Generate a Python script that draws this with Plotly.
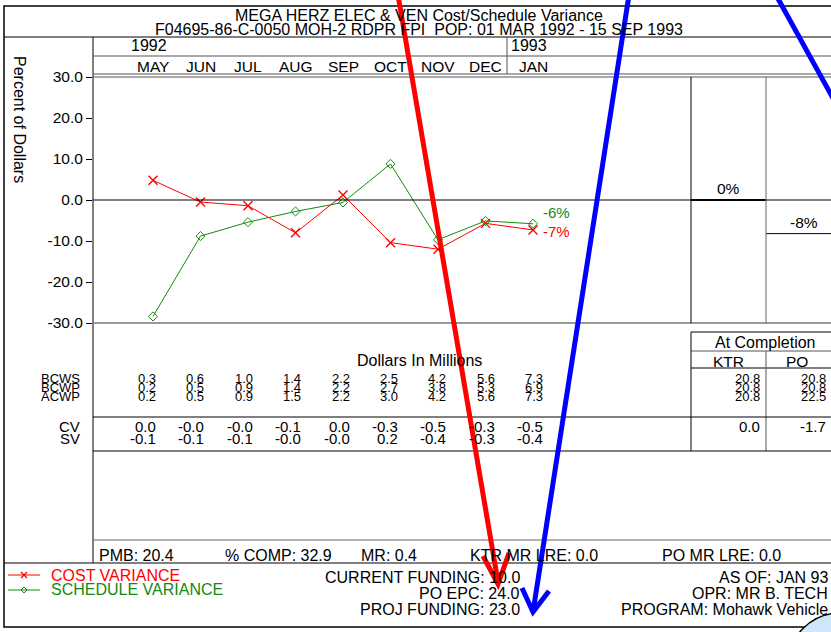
import plotly.graph_objects as go

# ---------------- data ----------------
months = ["MAY", "JUN", "JUL", "AUG", "SEP", "OCT", "NOV", "DEC", "JAN"]
year_labels = ["1992", "1993"]
year_start_index = [0, 8]
cost_var_pct = [4.8, -0.5, -1.4, -8.0, 1.2, -10.4, -12.0, -5.7, -7.3]
sched_var_pct = [-28.4, -8.8, -5.4, -2.8, -0.6, 8.8, -9.7, -5.1, -5.8]
y_ticks = [30, 20, 10, 0, -10, -20, -30]

bcws = [0.3, 0.6, 1.0, 1.4, 2.2, 2.5, 4.2, 5.6, 7.3]
bcwp = [0.2, 0.5, 0.9, 1.4, 2.2, 2.7, 3.8, 5.3, 6.9]
acwp = [0.2, 0.5, 0.9, 1.5, 2.2, 3.0, 4.2, 5.6, 7.3]
cv = [0.0, -0.0, -0.0, -0.1, 0.0, -0.3, -0.5, -0.3, -0.5]
sv = [-0.1, -0.1, -0.1, -0.0, -0.0, 0.2, -0.4, -0.3, -0.4]

completion_cols = ["KTR", "PO"]
completion_bcws = [20.8, 20.8]
completion_bcwp = [20.8, 20.8]
completion_acwp = [20.8, 22.5]
completion_cv = [0.0, -1.7]
completion_pct = [0.0, -8.2]

title_lines = ["MEGA HERZ ELEC & VEN Cost/Schedule Variance",
               "F04695-86-C-0050 MOH-2 RDPR FPI  POP: 01 MAR 1992 - 15 SEP 1993"]
status_items = ["PMB: 20.4", "% COMP: 32.9", "MR: 0.4", "KTR MR LRE: 0.0", "PO MR LRE: 0.0"]
funding_items = ["CURRENT FUNDING: 10.0", "PO EPC: 24.0", "PROJ FUNDING: 23.0"]
program_items = ["AS OF: JAN 93", "OPR: MR B. TECH", "PROGRAM: Mohawk Vehicle"]

# ---------------- layout helpers ----------------
W, H = 831, 632
FONT = "Liberation Sans, Arial, sans-serif"
RED = "#ff0000"
GREEN = "#118a11"
FS = 16        # general text size
FS_ROW = 13    # tightly packed BCWS/BCWP/ACWP rows
FS_VAR = 15    # CV/SV rows


def px(x):
    return x / W


def py(y):
    return 1 - y / H


shapes = []
annotations = []


def hline(y, x0, x1, color="black", width=1):
    shapes.append(dict(type="line", xref="paper", yref="paper", x0=px(x0), x1=px(x1),
                       y0=py(y), y1=py(y), line=dict(color=color, width=width)))


def vline(x, y0, y1, color="black", width=1):
    shapes.append(dict(type="line", xref="paper", yref="paper", x0=px(x), x1=px(x),
                       y0=py(y0), y1=py(y1), line=dict(color=color, width=width)))


def text(t, x, y, anchor="center", size=FS, color="black", family=FONT, **kw):
    annotations.append(dict(text=t, x=px(x), y=py(y), xref="paper", yref="paper",
                            xanchor=anchor, yanchor="middle", showarrow=False,
                            font=dict(size=size, color=color, family=family), **kw))


# plot geometry (pixels)
PL, PR, PT, PB = 93, 691, 77, 323
MONTH0, STEP = 153, 47.5
x_range = [-(MONTH0 - PL) / STEP, (PR - MONTH0) / STEP]
TAB0, TSTEP = 158, 48.4
x3_range = [-(TAB0 - PL) / TSTEP, (PR - TAB0) / TSTEP]
COLW = 75

fig = go.Figure()
idx = list(range(len(months)))
fig.add_trace(go.Scatter(x=idx, y=cost_var_pct, mode="lines+markers", name="COST VARIANCE",
                         line=dict(color=RED, width=1),
                         marker=dict(symbol="x-thin", size=9, line=dict(color=RED, width=1.4))))
fig.add_trace(go.Scatter(x=idx, y=sched_var_pct, mode="lines+markers", name="SCHEDULE VARIANCE",
                         line=dict(color=GREEN, width=1),
                         marker=dict(symbol="diamond-open", size=7, color=GREEN, line=dict(width=1))))

# at-completion percentage bars (drawn as level lines)
for i, v in enumerate(completion_pct):
    fig.add_trace(go.Scatter(x=[i, i + 1], y=[v, v], mode="lines", xaxis="x2", yaxis="y",
                             line=dict(color="black", width=2 if i == 0 else 1), showlegend=False))
    annotations.append(dict(text=f"{round(v)}%", x=i + 0.5, y=v, xref="x2", yref="y",
                            yanchor="bottom", showarrow=False, yshift=1,
                            font=dict(size=15.5, family=FONT, color="black")))

# end labels
annotations.append(dict(text=f"{round(sched_var_pct[-1])}%", x=len(months) - 1, y=sched_var_pct[-1],
                        xref="x", yref="y", xanchor="left", showarrow=False, xshift=8, yshift=11,
                        font=dict(size=15, family=FONT, color=GREEN)))
annotations.append(dict(text=f"{round(cost_var_pct[-1])}%", x=len(months) - 1, y=cost_var_pct[-1],
                        xref="x", yref="y", xanchor="left", showarrow=False, xshift=8, yshift=-2,
                        font=dict(size=15, family=FONT, color=RED)))

# month labels
for i, m in enumerate(months):
    annotations.append(dict(text=m, x=i, y=py(66), xref="x", yref="paper", yanchor="middle",
                            showarrow=False, font=dict(size=15.5, family=FONT, color="black")))
for lab, i in zip(year_labels, year_start_index):
    annotations.append(dict(text=lab, x=i, y=py(46), xref="x", yref="paper", yanchor="middle",
                            showarrow=False, xshift=-4, font=dict(size=FS, family=FONT, color="black")))

# table rows
row_defs = [("BCWS", bcws, 378, FS_ROW), ("BCWP", bcwp, 387, FS_ROW), ("ACWP", acwp, 396, FS_ROW),
            ("CV", cv, 426, FS_VAR), ("SV", sv, 438, FS_VAR)]
for name, vals, y, fs in row_defs:
    text(name, 82, y, anchor="right", size=fs)
    for i, v in enumerate(vals):
        annotations.append(dict(text=f"{v:.1f}", x=i, y=py(y), xref="x3", yref="paper",
                                xanchor="right", yanchor="middle", showarrow=False,
                                font=dict(size=fs, family=FONT, color="black")))
text("Dollars In Millions", 419, 360)

# at completion box
text("At Completion", 765, 342)
col_right = [762, 828]
col_center = [728, 797]
for j, c in enumerate(completion_cols):
    text(c, col_center[j], 361, size=15.5)
    for vals, y, fs in ((completion_bcws, 378, FS_ROW), (completion_bcwp, 387, FS_ROW),
                        (completion_acwp, 396, FS_ROW), (completion_cv, 426, FS_VAR)):
        text(f"{vals[j]:.1f}", col_right[j], y, anchor="right", size=fs)

# titles
text(title_lines[0], 419, 15)
text(title_lines[1], 419, 29)
text("Percent of Dollars", 20, 119, textangle=90)

# status row
for t, x in zip(status_items, [97, 223, 359, 468, 660]):
    text(t, x, 555, anchor="left")
for t, y in zip(funding_items, [577, 593, 609]):
    text(t, 522, y, anchor="right")
for t, y in zip(program_items, [577, 593, 609]):
    text(t, 830, y, anchor="right")

# legend (manual)
text("COST VARIANCE", 49, 575, anchor="left", color=RED)
text("SCHEDULE VARIANCE", 49, 589, anchor="left", color=GREEN)
hline(575, 8, 40, color=RED, width=1)
hline(590, 8, 40, color=GREEN, width=1)
shapes.append(dict(type="path", xref="paper", yref="paper",
                   path=f"M {px(21)} {py(572)} L {px(27)} {py(578)} M {px(21)} {py(578)} L {px(27)} {py(572)}",
                   line=dict(color=RED, width=1.3)))
shapes.append(dict(type="path", xref="paper", yref="paper",
                   path=f"M {px(21)} {py(590)} L {px(24)} {py(587)} L {px(27)} {py(590)} L {px(24)} {py(593)} Z",
                   line=dict(color=GREEN, width=1)))

# frame and rules
shapes.append(dict(type="rect", xref="paper", yref="paper", x0=px(4), x1=px(845), y0=py(627), y1=py(6),
                   line=dict(color="black", width=1.5)))
hline(37, 4, 831)
vline(PL, 37, 563)
hline(56, PL, 831, color="#555")
hline(74, PL, 831, color="#555")
hline(77, PL, 831, color="#555")
vline(507, 37, 74, color="#555")
hline(200, PL, 831)
hline(323, PL, 831, color="#777", width=1.5)
vline(PR, 77, 323)
vline(PR + COLW, 77, 323, color="#666")
hline(332, PR, 831)
hline(351, PR, 831, color="#555")
hline(368, PR, 831)
vline(PR, 332, 451)
vline(PR + COLW, 351, 451, color="#555")
hline(417, PL, 831)
hline(451, PL, 831)
hline(540, PL, 831, color="#666")
hline(563, 4, 831)

# overlay markup (hand-drawn arrows and circle)
shapes.append(dict(type="circle", xref="paper", yref="paper", x0=px(788), x1=px(892), y0=py(717), y1=py(613),
                   fillcolor="#cfe6fa", line=dict(color="black", width=1.5)))
shapes.append(dict(type="line", xref="paper", yref="paper", x0=px(398), y0=py(-5), x1=px(498), y1=py(582),
                   line=dict(color=RED, width=5)))
shapes.append(dict(type="path", xref="paper", yref="paper",
                   path=f"M {px(483)} {py(556)} L {px(498)} {py(584)} L {px(509)} {py(553)}",
                   line=dict(color=RED, width=5)))
shapes.append(dict(type="line", xref="paper", yref="paper", x0=px(629), y0=py(-5), x1=px(533), y1=py(612),
                   line=dict(color="blue", width=5)))
shapes.append(dict(type="path", xref="paper", yref="paper",
                   path=f"M {px(522)} {py(588)} L {px(533)} {py(612)} L {px(549)} {py(591)}",
                   line=dict(color="blue", width=5)))
shapes.append(dict(type="line", xref="paper", yref="paper", x0=px(776), y0=py(-5), x1=px(845), y1=py(120),
                   line=dict(color="blue", width=5)))

fig.update_layout(
    width=W, height=H, margin=dict(l=0, r=0, t=0, b=0, autoexpand=False),
    paper_bgcolor="white", plot_bgcolor="rgba(0,0,0,0)",
    showlegend=False,
    font=dict(family=FONT, size=FS, color="black"),
    xaxis=dict(domain=[px(PL), px(PR)], range=x_range, visible=False, automargin=False),
    xaxis2=dict(domain=[px(PR), 1], range=[0, (W - PR) / COLW], visible=False, anchor="y",
                automargin=False),
    xaxis3=dict(domain=[px(PL), px(PR)], range=x3_range, visible=False, anchor="y", overlaying="x",
                automargin=False),
    yaxis=dict(domain=[py(PB), py(PT)], range=[-30, 30], tickvals=y_ticks, automargin=False,
               ticktext=[f"{v:.1f}" for v in y_ticks], ticks="outside", ticklen=6,
               tickcolor="black", showgrid=False, zeroline=False, showline=False,
               tickfont=dict(size=15.5, family=FONT, color="black")),
    shapes=shapes, annotations=annotations,
)

pin_to_corner = (
    "document.documentElement.style.margin='0';"
    "document.body.style.margin='0';"
    "document.body.style.overflow='hidden';"
    "var d=document.getElementById('{plot_id}');"
    "d.style.position='fixed';d.style.left='0px';d.style.top='0px';"
)
fig.write_html("out.html", post_script=pin_to_corner, config={"displayModeBar": False})
